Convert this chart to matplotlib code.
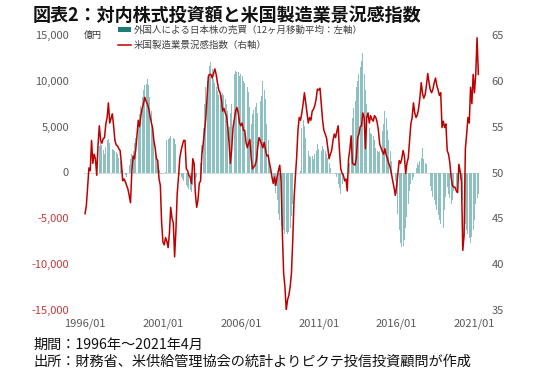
import numpy as np
import matplotlib
matplotlib.use('Agg')
import matplotlib.pyplot as plt
from matplotlib.patches import Patch
from matplotlib.lines import Line2D

plt.rcParams['font.family'] = ['Noto Sans CJK JP', 'DejaVu Sans']

nan = np.nan
# US ISM manufacturing PMI (right axis), monthly 1996/01 - 2021/04
ism_1996 = [45.5, 46.4, 48.5, 50.5, 50.2, 53.5, 51.0, 52.0, 51.5, 49.7, 53.0, 55.1]
ism_1997 = [53.5, 53.2, 53.7, 53.8, 55.3, 56.0, 57.6, 55.4, 55.9, 56.4, 55.1, 53.5]
ism_1998 = [53.0, 52.9, 52.6, 52.4, 51.0, 49.1, 49.3, 49.0, 48.6, 48.2, 47.5, 46.7]
ism_1999 = [50.0, 51.8, 51.5, 52.4, 54.0, 55.7, 55.0, 56.2, 57.0, 57.5, 58.2, 57.8]
ism_2000 = [57.5, 57.0, 56.2, 55.5, 54.9, 53.5, 52.7, 51.5, 51.3, 49.3, 48.6, 44.5]
ism_2001 = [42.4, 42.1, 42.9, 42.5, 41.8, 43.4, 46.2, 45.0, 44.5, 40.8, 43.7, 47.7]
ism_2002 = [49.5, 51.6, 52.4, 53.0, 53.5, 53.5, 50.4, 50.2, 49.7, 49.5, 48.8, 51.5]
ism_2003 = [51.0, 47.7, 46.2, 47.0, 48.8, 49.1, 52.0, 53.1, 54.5, 55.9, 58.2, 60.5]
ism_2004 = [60.7, 60.7, 60.3, 60.8, 61.3, 60.7, 59.8, 59.0, 58.7, 58.0, 56.7, 57.0]
ism_2005 = [56.5, 56.2, 54.9, 53.1, 51.0, 52.6, 54.9, 55.8, 56.7, 57.1, 56.5, 55.4]
ism_2006 = [55.1, 55.4, 54.6, 54.6, 53.3, 52.7, 53.2, 53.6, 51.6, 50.4, 50.6, 50.8]
ism_2007 = [51.3, 52.7, 53.8, 53.5, 53.1, 52.7, 53.3, 52.5, 51.8, 51.9, 51.1, 50.4]
ism_2008 = [49.5, 48.8, 49.5, 48.6, 49.6, 50.2, 50.8, 49.1, 43.4, 39.0, 37.5, 35.0]
ism_2009 = [36.1, 36.6, 37.5, 39.0, 42.6, 47.0, 49.5, 51.6, 54.6, 56.0, 55.7, 56.5]
ism_2010 = [57.5, 58.7, 57.6, 56.5, 55.4, 56.0, 55.7, 56.7, 56.9, 57.3, 58.0, 59.1]
ism_2011 = [59.0, 59.2, 57.5, 55.7, 54.6, 54.2, 53.8, 52.7, 51.5, 52.0, 52.4, 53.5]
ism_2012 = [54.2, 53.8, 54.5, 55.1, 52.4, 50.4, 49.9, 49.7, 49.1, 49.3, 48.0, 51.5]
ism_2013 = [52.5, 54.0, 51.0, 50.9, 50.8, 51.6, 53.8, 54.2, 55.0, 55.1, 56.5, 56.0]
ism_2014 = [52.6, 56.0, 56.5, 55.4, 56.2, 55.8, 55.6, 56.2, 56.0, 55.5, 54.6, 53.1]
ism_2015 = [52.7, 52.3, 52.0, 52.6, 51.9, 51.5, 51.0, 50.6, 49.9, 49.1, 48.4, 47.5]
ism_2016 = [48.5, 49.9, 51.3, 51.0, 51.5, 52.4, 51.8, 49.9, 51.0, 51.6, 53.5, 55.3]
ism_2017 = [56.0, 57.6, 56.5, 56.0, 56.3, 57.0, 58.2, 59.8, 58.6, 58.1, 58.5, 59.5]
ism_2018 = [60.8, 59.8, 59.0, 58.7, 59.1, 59.8, 60.3, 59.5, 59.0, 58.4, 58.7, 54.9]
ism_2019 = [55.6, 54.9, 55.3, 52.4, 52.0, 51.1, 49.5, 48.6, 48.4, 48.4, 48.0, 47.8]
ism_2020 = [50.9, 50.1, 49.1, 41.5, 43.1, 52.6, 54.2, 56.0, 55.4, 59.3, 57.5, 60.7]
ism_2021 = [58.7, 60.8, 64.7, 60.7]

# Foreign net buying of Japanese stocks, 12m moving average (100 mn yen, left axis)
buy_1996 = [nan, nan, nan, nan, nan, nan, nan, nan, nan, nan, nan, 2900]
buy_1997 = [3300, 3000, 2500, 2000, 2800, 3500, 3700, 3200, 2700, 2600, 2500, 2400]
buy_1998 = [2200, 2000, 1600, 1300, 800, 300, -200, -300, -500, 0, 800, 1500]
buy_1999 = [2000, 2400, 3200, 3800, 4200, 5300, 6400, 7300, 8200, 9000, 9500, 9700]
buy_2000 = [10200, 9500, 8200, 6700, 4900, 3500, 2200, 1500, 1000, 300, 0, -200]
buy_2001 = [0, -100, 100, 3500, 3700, 3800, 4000, 3900, 3800, 3700, 3100, 0]
buy_2002 = [-100, -300, -500, -700, -900, -1100, -1400, -1600, -1800, -1900, -2100, -1400]
buy_2003 = [-1000, -700, -500, -300, 0, 1000, 3000, 4900, 7500, 9300, 10000, 10800]
buy_2004 = [11600, 12100, 11300, 10200, 9800, 9300, 8900, 8500, 8200, 8500, 8700, 8500]
buy_2005 = [8000, 7500, 6700, 5000, 6500, 7500, 9000, 10800, 11100, 11000, 11000, 10500]
buy_2006 = [10800, 10500, 10000, 9800, 9600, 9300, 8800, 7100, 5300, 6400, 6800, 7100]
buy_2007 = [7600, 6500, 7200, 7800, 8400, 10000, 9000, 8000, 5300, 3500, 1300, 200]
buy_2008 = [-400, -900, -1500, -2200, -3000, -4500, -5200, -5800, -6000, -6300, -6700, -6500]
buy_2009 = [-6700, -6500, -6000, -4700, -3400, -1600, -800, -100, 0, 0, 200, 4900]
buy_2010 = [5700, 5100, 3800, 3100, 2400, 1800, 1700, 1800, 1500, 2000, 2400, 3100]
buy_2011 = [2600, 2400, 2400, 2900, 2600, 2400, 2000, 1600, 1000, 500, 0, 0]
buy_2012 = [0, -200, -500, -1200, -1700, -2300, -1200, -500, 0, 0, 0, 300]
buy_2013 = [1000, 2400, 6000, 7000, 7800, 9300, 10000, 10800, 11500, 12200, 13000, 10800]
buy_2014 = [9000, 7500, 6000, 4900, 4300, 4200, 4000, 3500, 2700, 2400, 2200, 2400]
buy_2015 = [3500, 4500, 5300, 6700, 6000, 4600, 3500, 2400, 1300, 0, -400, -900]
buy_2016 = [-2300, -4500, -6300, -7700, -8100, -8000, -7400, -6000, -4900, -3400, -2000, -1200]
buy_2017 = [-800, -500, 0, 500, 1000, 800, 1300, 1600, 2700, 1500, 1000, 900]
buy_2018 = [0, -900, -1500, -2000, -2700, -3000, -3500, -4100, -4600, -5200, -5600, -5900]
buy_2019 = [-6100, -4100, -2700, -1600, -2300, -2800, -3400, -3000, -2000, -2300, -1800, -1200]
buy_2020 = [-500, -800, -1200, -3000, -4900, -5600, -6300, -6700, -7100, -7700, -7000, -6300]
buy_2021 = [-5200, -3400, -2800, -2300]

x_tick_labels = ['1996/01', '2001/01', '2006/01', '2011/01', '2016/01', '2021/01']
left_ticks = [-15000, -10000, -5000, 0, 5000, 10000, 15000]
right_ticks = [35, 40, 45, 50, 55, 60, 65]

title = '図表2：対内株式投資額と米国製造業景況感指数'
label_bar = '外国人による日本株の売買（12ヶ月移動平均：左軸）'
label_line = '米国製造業景況感指数（右軸）'
note1 = '期間：1996年～2021年4月'
note2 = '出所：財務省、米供給管理協会の統計よりピクテ投信投資顧問が作成'

ism = np.array(ism_1996 + ism_1997 + ism_1998 + ism_1999 + ism_2000 + ism_2001 + ism_2002 +
               ism_2003 + ism_2004 + ism_2005 + ism_2006 + ism_2007 + ism_2008 + ism_2009 +
               ism_2010 + ism_2011 + ism_2012 + ism_2013 + ism_2014 + ism_2015 + ism_2016 +
               ism_2017 + ism_2018 + ism_2019 + ism_2020 + ism_2021)
buys = np.array(buy_1996 + buy_1997 + buy_1998 + buy_1999 + buy_2000 + buy_2001 + buy_2002 +
                buy_2003 + buy_2004 + buy_2005 + buy_2006 + buy_2007 + buy_2008 + buy_2009 +
                buy_2010 + buy_2011 + buy_2012 + buy_2013 + buy_2014 + buy_2015 + buy_2016 +
                buy_2017 + buy_2018 + buy_2019 + buy_2020 + buy_2021, dtype=float)
x = np.arange(len(ism))

fig = plt.figure(figsize=(5.5, 3.76), dpi=100)
ax = fig.add_axes([84.4 / 550, 1 - 310 / 376, (479 - 84.4) / 550, 275 / 376])
ax2 = ax.twinx()

bar_color = '#8dc0c0'
line_color = '#c00000'
ax.bar(x, buys, width=0.72, color=bar_color, linewidth=0)
ax.axhline(0, color='#c8d8d8', lw=0.6, zorder=0)
ax2.plot(x, ism, color=line_color, lw=1.1)

ax.set_xlim(-0.5, len(x) - 0.5)
ax.set_ylim(-15000, 15000)
ax2.set_ylim(35, 65)

ax.set_xticks([0, 60, 120, 180, 240, 300])
ax.set_xticklabels(x_tick_labels)
ax.set_yticks(left_ticks)
ax.set_yticklabels([f'{v:,}' for v in left_ticks])
ax2.set_yticks(right_ticks)
ax2.set_yticklabels([str(v) for v in right_ticks])

gray = '#595959'
neg_red = '#c83a3a'
for a in (ax, ax2):
    for s in a.spines.values():
        s.set_visible(False)
ax.tick_params(axis='both', length=0, labelsize=8, colors=gray)
ax.tick_params(axis='y', pad=11)
ax.tick_params(axis='x', pad=6)
ax2.tick_params(axis='y', length=0, labelsize=8, colors=gray, pad=9)
for lbl, v in zip(ax.get_yticklabels(), left_ticks):
    if v < 0:
        lbl.set_color(neg_red)

fig.text(84 / 550, 1 - 35 / 376, '億円', fontsize=6.5, color='#333333', va='center', ha='left')

handles = [Patch(facecolor='#1f7a7a', edgecolor='none'),
           Line2D([0], [0], color=line_color, lw=1.1)]
fig.legend(handles, [label_bar, label_line], loc='upper left',
           bbox_to_anchor=(118 / 550, 1 - 26 / 376), frameon=False, fontsize=6.8,
           handlelength=1.4, handleheight=0.45, handletextpad=0.25, labelspacing=0.55,
           borderpad=0, borderaxespad=0, labelcolor='#404040')

fig.text(33 / 550, 1 - 15 / 376, title, fontsize=13, fontweight='bold', color='#111111',
         va='center', ha='left')
fig.text(33 / 550, 1 - 345 / 376, note1, fontsize=10.2, color='#111111', va='center', ha='left')
fig.text(33 / 550, 1 - 362 / 376, note2, fontsize=10.2, color='#111111', va='center', ha='left')

fig.savefig('out.png', dpi=100)
